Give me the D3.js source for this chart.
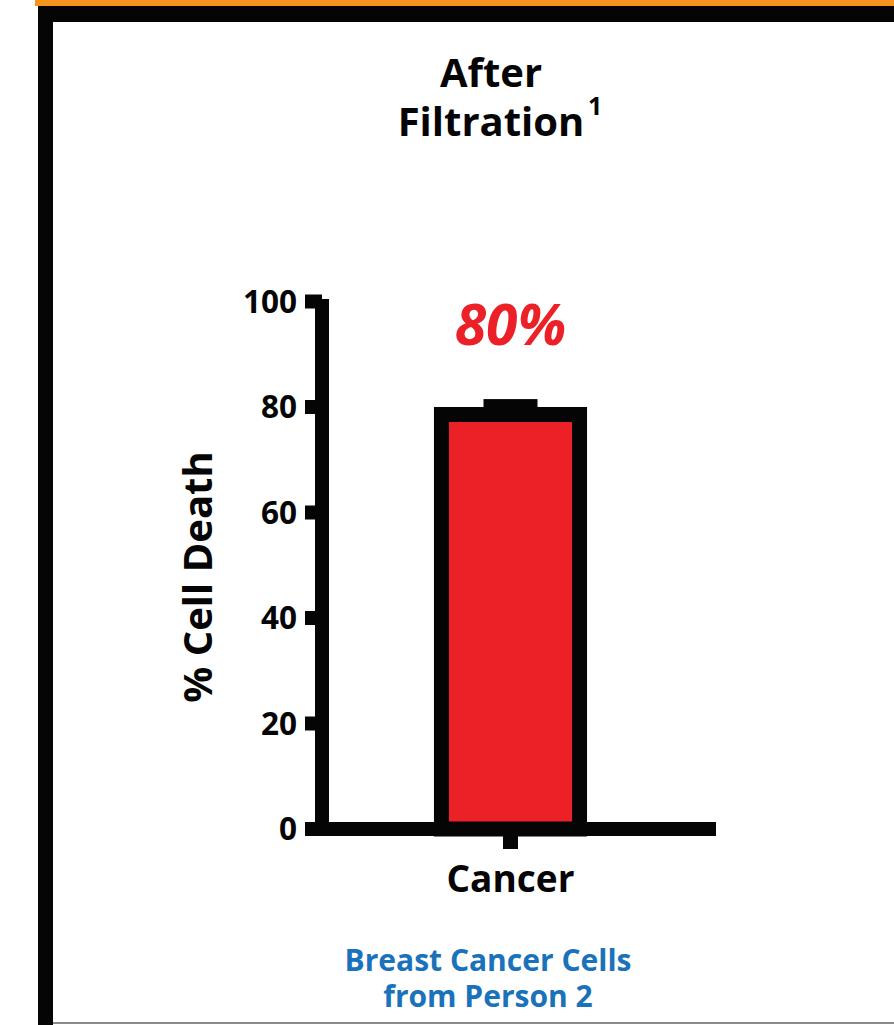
<!DOCTYPE html>
<html>
<head>
<meta charset="utf-8">
<script src="https://cdn.jsdelivr.net/npm/d3@7"></script>
<style>
  html, body { margin: 0; padding: 0; background: #fff; }
  svg { display: block; }
  text { font-family: "Open Sans", "Noto Sans", sans-serif; font-weight: 700; }
</style>
</head>
<body>
<svg id="chart" width="894" height="1025"></svg>
<script>
const categories = ["Cancer"];
const values = [80];
const errors = [1.5];
const yTicks = [0, 20, 40, 60, 80, 100];
const titleLines = ["After", "Filtration"];
const titleNote = "1";
const valueLabel = "80%";
const yLabel = "% Cell Death";
const subtitleLines = ["Breast Cancer Cells", "from Person 2"];

const svg = d3.select("#chart");
const BLACK = "#050505", RED = "#ec2027", BLUE = "#1a72bb", ORANGE = "#f7941d";

// frame
svg.append("rect").attr("x", 35).attr("y", 0).attr("width", 859).attr("height", 6).attr("fill", ORANGE);
svg.append("rect").attr("x", 38).attr("y", 6).attr("width", 856).attr("height", 16).attr("fill", BLACK);
svg.append("rect").attr("x", 38).attr("y", 6).attr("width", 15).attr("height", 1019).attr("fill", BLACK);
svg.append("rect").attr("x", 53).attr("y", 1022).attr("width", 841).attr("height", 2).attr("fill", "#8a8a8a");

// scales
const y = d3.scaleLinear().domain([0, 100]).range([829, 301.5]);
const x = d3.scaleBand().domain(categories).range([305, 716]).padding(0.497);

const axisX = 322;

// y axis line
svg.append("line").attr("x1", axisX).attr("x2", axisX)
  .attr("y1", y(100) - 2.5).attr("y2", y(0) + 7)
  .attr("stroke", BLACK).attr("stroke-width", 14);

// y ticks
svg.selectAll(".ytick").data(yTicks).enter().append("line")
  .attr("x1", 305).attr("x2", axisX)
  .attr("y1", d => y(d)).attr("y2", d => y(d))
  .attr("stroke", BLACK).attr("stroke-width", 14);

svg.selectAll(".ylab").data(yTicks).enter().append("text")
  .attr("x", 297).attr("y", d => y(d))
  .attr("dy", "0.36em")
  .attr("text-anchor", "end")
  .attr("font-size", 31.5)
  .attr("fill", BLACK)
  .text(d => d);

// bars
svg.selectAll(".bar").data(values).enter().append("rect")
  .attr("x", (d, i) => x(categories[i]))
  .attr("width", x.bandwidth())
  .attr("y", d => y(d) + 7.5)
  .attr("height", d => y(0) - y(d) - 7.5)
  .attr("fill", RED)
  .attr("stroke", BLACK)
  .attr("stroke-width", 15);

// error caps
svg.selectAll(".err").data(values).enter().append("rect")
  .attr("x", (d, i) => x(categories[i]) + x.bandwidth() / 2 - 27)
  .attr("width", 54)
  .attr("y", (d, i) => y(d + errors[i]))
  .attr("height", 14)
  .attr("fill", BLACK);

// x axis line
svg.append("line").attr("x1", 305).attr("x2", 716)
  .attr("y1", y(0)).attr("y2", y(0))
  .attr("stroke", BLACK).attr("stroke-width", 14);

// x ticks
svg.selectAll(".xtick").data(categories).enter().append("line")
  .attr("x1", d => x(d) + x.bandwidth() / 2).attr("x2", d => x(d) + x.bandwidth() / 2)
  .attr("y1", y(0)).attr("y2", 849)
  .attr("stroke", BLACK).attr("stroke-width", 15);

svg.selectAll(".xlab").data(categories).enter().append("text")
  .attr("x", d => x(d) + x.bandwidth() / 2).attr("y", 892)
  .attr("text-anchor", "middle")
  .attr("font-size", 37)
  .attr("fill", BLACK)
  .text(d => d);

// value label
svg.append("text")
  .attr("x", x(categories[0]) + x.bandwidth() / 2).attr("y", 345)
  .attr("text-anchor", "middle")
  .attr("font-size", 57)
  .attr("font-style", "italic")
  .attr("fill", RED)
  .text(valueLabel);

// y label
svg.append("text")
  .attr("transform", "translate(212,577) rotate(-90)")
  .attr("text-anchor", "middle")
  .attr("font-size", 40)
  .attr("fill", BLACK)
  .text(yLabel);

// title
svg.append("text").attr("x", 491).attr("y", 87)
  .attr("text-anchor", "middle").attr("font-size", 40).attr("fill", BLACK)
  .text(titleLines[0]);
svg.append("text").attr("x", 491).attr("y", 136)
  .attr("text-anchor", "middle").attr("font-size", 40).attr("fill", BLACK)
  .text(titleLines[1]);
svg.append("text").attr("x", 588).attr("y", 115)
  .attr("font-size", 25).attr("fill", BLACK)
  .text(titleNote);

// subtitle
subtitleLines.forEach((t, i) => {
  svg.append("text").attr("x", 488).attr("y", 971 + i * 36)
    .attr("text-anchor", "middle").attr("font-size", 30).attr("fill", BLUE)
    .text(t);
});
</script>
</body>
</html>
